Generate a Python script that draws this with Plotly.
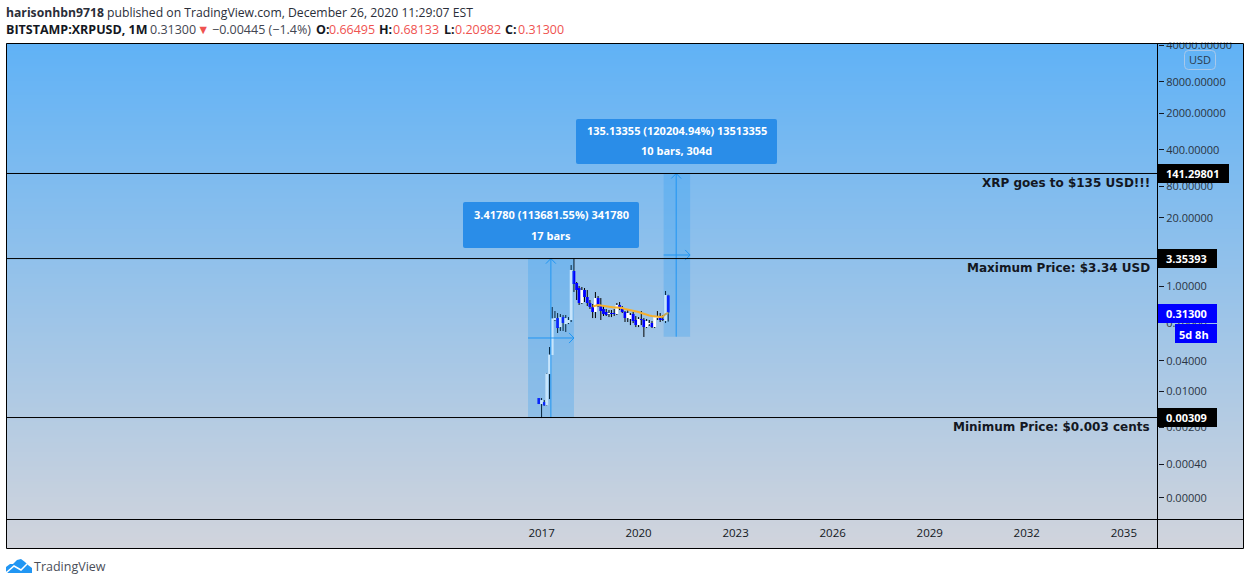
import pandas as pd
import plotly.graph_objects as go

W, H = 1250, 585
FONT = "Open Sans"
BOLD = "DejaVu Sans"
INK = "#131722"

months = pd.date_range("2016-12-01", "2020-12-01", freq="MS")
opens = [.00728,.00559,.00610,.00524,.0209,.0483,.225,.245,.165,.256,.188,.197,.225,1.94,1.144,.918,.475,.841,.618,.475,.398,.320,.591,.435,.365,.320,.293,.306,.306,.293,.435,.381,.320,.245,.235,.293,.225,.180,.235,.225,.165,.188,.197,.165,.245,.256,.235,.215,.66495]
highs = [.00728,.00728,.00666,.0219,.0686,.398,.334,.306,.293,.280,.280,.256,2.52,3.354,1.196,1.003,.96,.918,.841,.542,.454,.770,.646,.591,.416,.365,.349,.349,.365,.475,.496,.416,.334,.349,.306,.320,.268,.256,.334,.245,.235,.225,.215,.268,.334,.306,.280,.805,.68133]
lows = [.00559,.00302,.00513,.00513,.00696,.0483,.215,.127,.139,.139,.133,.188,.206,.770,.542,.435,.454,.496,.416,.365,.245,.245,.398,.225,.268,.268,.256,.256,.268,.280,.349,.306,.206,.206,.180,.197,.165,.165,.180,.1067,.158,.173,.158,.158,.225,.206,.215,.197,.20982]
closes = [.00559,.00666,.00524,.0214,.0493,.242,.245,.158,.256,.197,.245,.225,2.028,1.095,.841,.475,.841,.618,.475,.398,.320,.591,.435,.334,.293,.280,.306,.293,.293,.435,.381,.320,.245,.306,.280,.215,.180,.235,.225,.165,.215,.197,.165,.256,.268,.225,.225,.675,.31300]
ma_months = pd.date_range("2018-08-01", "2020-12-01", freq="MS")
ma_values = [.407,.425,.435,.425,.416,.407,.398,.398,.390,.390,.390,.381,.365,.357,.349,.341,.327,.320,.306,.293,.280,.274,.268,.262,.256,.256,.262,.293,.306]

price_ticks = [40000,8000,2000,400,80,20,1,0.2,0.0376,0.00978,0.002,0.0004,0.00009]
price_labels = ["40000.00000","8000.00000","2000.00000","400.00000","80.00000","20.00000","1.00000","0.20000","0.04000","0.01000","0.00200","0.00040","0.00000"]
year_ticks = ["2017-01-01","2020-01-01","2023-01-01","2026-01-01","2029-01-01","2032-01-01","2035-01-01"]
year_labels = ["2017","2020","2023","2026","2029","2032","2035"]

level_high = 141.29801
level_max = 3.35393
level_min = 0.00309
last_close = 0.31300

def px(x): return x / W
def py(y): return 1 - y / H

wick_x, wick_y = [], []
for m, o, hi, lo, c in zip(months, opens, highs, lows, closes):
    wick_x += [m, m, None, m, m, None]
    wick_y += [hi, max(o, c), None, min(o, c), lo, None]

body_base = [min(o, c) for o, c in zip(opens, closes)]
body_size = [abs(c - o) for o, c in zip(opens, closes)]
body_color = ["#ffffff" if c >= o else "#0000ff" for o, c in zip(opens, closes)]
body_days = 32 * 86400000

fig = go.Figure()
fig.add_trace(go.Heatmap(z=[[0, 0], [1, 1]], x=[0, 1], y=[0, 1], zsmooth="best", showscale=False,
                         colorscale=[[0, "#d1d4dc"], [1, "#60b2f6"]], hoverinfo="skip", xaxis="x", yaxis="y"))
fig.add_trace(go.Scatter(x=wick_x, y=wick_y, mode="lines", line=dict(color="#000000", width=1),
                         xaxis="x2", yaxis="y2", hoverinfo="skip", showlegend=False))
fig.add_trace(go.Bar(x=months, y=body_size, base=body_base, width=body_days, marker=dict(color=body_color, line=dict(width=0)),
                     xaxis="x2", yaxis="y2", showlegend=False, hoverinfo="skip"))
fig.add_trace(go.Scatter(x=ma_months, y=ma_values, mode="lines", line=dict(color="#f6b02c", width=2),
                         xaxis="x2", yaxis="y2", hoverinfo="skip", showlegend=False))

shapes = []
BLUE = "#2196f3"

def data_line(x0, y0, x1, y1):
    shapes.append(dict(type="line", xref="x2", yref="y2", x0=x0, y0=y0, x1=x1, y1=y1,
                       line=dict(color=BLUE, width=1), layer="above"))

def measure(x0, x1, xmid, p0, p1, p_h):
    t0, t1, tm = map(pd.Timestamp, (x0, x1, xmid))
    shapes.append(dict(type="rect", xref="x2", yref="y2", x0=t0, x1=t1, y0=p0, y1=p1,
                       fillcolor="rgba(33,150,243,0.25)", line=dict(width=0), layer="above"))
    data_line(tm, p0, tm, p1)
    data_line(t0, p_h, t1, p_h)
    arm = pd.Timedelta(days=56)
    factor = 1.25
    data_line(tm - arm, p1 / factor, tm, p1)
    data_line(tm + arm, p1 / factor, tm, p1)
    data_line(t1 - arm, p_h * factor, t1, p_h)
    data_line(t1 - arm, p_h / factor, t1, p_h)

measure("2016-08-01", "2018-01-02", "2017-04-16", 0.00302, level_max, 0.102)
measure("2020-10-10", "2021-08-05", "2021-03-01", 0.108, level_high, 3.92)

for level in (level_high, level_max, level_min):
    shapes.append(dict(type="line", xref="paper", yref="y2", x0=px(6), x1=px(1158), y0=level, y1=level,
                       line=dict(color="#000000", width=1), layer="above"))

def rect(x0, y0, x1, y1, color):
    shapes.append(dict(type="rect", xref="paper", yref="paper", x0=px(x0), x1=px(x1), y0=py(y0), y1=py(y1),
                       fillcolor=color, line=dict(width=0), layer="above"))

def rrect(x0, y0, x1, y1, r, fill, line=None):
    p = (f"M{px(x0+r)},{py(y0)} L{px(x1-r)},{py(y0)} Q{px(x1)},{py(y0)} {px(x1)},{py(y0+r)} "
         f"L{px(x1)},{py(y1-r)} Q{px(x1)},{py(y1)} {px(x1-r)},{py(y1)} L{px(x0+r)},{py(y1)} "
         f"Q{px(x0)},{py(y1)} {px(x0)},{py(y1-r)} L{px(x0)},{py(y0+r)} Q{px(x0)},{py(y0)} {px(x0+r)},{py(y0)} Z")
    shapes.append(dict(type="path", xref="paper", yref="paper", path=p, fillcolor=fill,
                       line=dict(color=line or "rgba(0,0,0,0)", width=1), layer="above"))

rect(0, 0, W, 42.5, "#ffffff")
rect(1157, 164, 1229, 183, "#000000")
rect(1157, 249, 1217, 268, "#000000")
rect(1157, 408, 1217, 427, "#000000")
rect(1157, 304, 1217, 323, "#0000ff")
rect(1175, 324, 1217, 343, "#0000ff")
rrect(1184.5, 50.5, 1215.5, 69.5, 4, "rgba(0,0,0,0)", "#a8c8ea")
rrect(463, 202, 639, 248, 2, "#2a8de8")
rrect(576, 119, 777, 164, 2, "#2a8de8")
shapes.append(dict(type="rect", xref="paper", yref="paper", x0=px(6.5), x1=px(1243.5), y0=py(43.5), y1=py(548.5),
                   line=dict(color="#000000", width=1), layer="above"))
for x0, y0, x1, y1 in [(1157.5, 43, 1157.5, 548), (6, 519.5, 1243, 519.5)]:
    shapes.append(dict(type="line", xref="paper", yref="paper", x0=px(x0), y0=py(y0), x1=px(x1), y1=py(y1),
                       line=dict(color="#000000", width=1), layer="above"))
cloud = [(6,571),(6,567),(10,564),(13,564),(17,560),(21,559),(25,562),(28,565),(32,568),(32,573),(8,573)]
shapes.append(dict(type="path", xref="paper", yref="paper", fillcolor="#2196f3", line=dict(width=0), layer="above",
                   path="M" + " L".join(f"{px(a)},{py(b)}" for a, b in cloud) + " Z"))
shapes.append(dict(type="path", xref="paper", yref="paper", line=dict(color="#ffffff", width=1.5), layer="above",
                   path=f"M{px(7)},{py(572)} L{px(14)},{py(566)} L{px(21)},{py(570)} L{px(27)},{py(564)}"))

notes = []
def text(s, x, y, anchor="left", size=12, color=INK, family=FONT):
    notes.append(dict(text=s, x=px(x), y=py(y), xref="paper", yref="paper", xanchor=anchor, yanchor="middle",
                      showarrow=False, borderpad=0, borderwidth=0, font=dict(family=family, size=size, color=color)))

text("<b>harisonhbn9718</b> published on TradingView.com, December 26, 2020 11:29:07 EST", 6, 12, size=12.2, color="#2a2e39")
R = "#ef5350"
G = "#434651"
header_parts = [("<b>BITSTAMP:XRPUSD, 1M</b>", 6, INK), ("0.31300", 150, G), ("▼", 197, R),
                ("−0.00445 (−1.4%)", 212, G), ("<b>O:</b>", 316, INK), ("0.66495", 329, R),
                ("<b>H:</b>", 379, INK), ("0.68133", 393, R), ("<b>L:</b>", 444, INK), ("0.20982", 455, R),
                ("<b>C:</b>", 505, INK), ("0.31300", 518, R)]
for s, x, c in header_parts:
    text(s, x, 29, size=12.5, color=c)
text("<b>XRP goes to $135 USD!!!</b>", 1150, 183, "right", 12, family=BOLD)
text("<b>Maximum Price: $3.34 USD</b>", 1150, 268, "right", 12, family=BOLD)
text("<b>Minimum Price: $0.003 cents</b>", 1150, 427, "right", 12, family=BOLD)
text("<b>141.29801</b>", 1166, 173.5, color="#ffffff", size=11)
text("<b>3.35393</b>", 1166, 258.5, color="#ffffff", size=11)
text("<b>0.00309</b>", 1166, 417.5, color="#ffffff", size=11)
text("<b>0.31300</b>", 1166, 313.5, color="#ffffff", size=11)
text("<b>5d 8h</b>", 1179, 334, color="#ffffff", size=11)
text("USD", 1200, 60, "center", 11, "#2a3a4c")
text("<b>3.41780 (113681.55%) 341780</b>", 551, 214, "center", 11, "#ffffff")
text("<b>17 bars</b>", 551, 235, "center", 11, "#ffffff")
text("<b>135.13355 (120204.94%) 13513355</b>", 676.5, 130, "center", 11, "#ffffff")
text("<b>10 bars, 304d</b>", 676.5, 151, "center", 11, "#ffffff")
text("TradingView", 34, 566, size=12.5, color="#4a4e58")

fig.update_layout(
    width=W, height=H, autosize=False, margin=dict(l=0, r=0, t=0, b=0, pad=0),
    paper_bgcolor="#ffffff", plot_bgcolor="rgba(0,0,0,0)", showlegend=False, hovermode=False,
    shapes=shapes, annotations=notes, barmode="overlay",
    xaxis=dict(domain=[px(6), px(1243)], range=[0, 1], visible=False, fixedrange=True, automargin=False),
    yaxis=dict(domain=[py(548), py(43)], range=[0, 1], visible=False, fixedrange=True, automargin=False),
    xaxis2=dict(domain=[px(6), px(1158)], type="date", range=["2000-06-12", "2036-01-22"], anchor="y2", automargin=False,
                tickmode="array", tickvals=year_ticks, ticktext=year_labels, ticks="outside", ticklen=3,
                tickcolor="rgba(0,0,0,0)", showgrid=False, zeroline=False,
                tickfont=dict(family=FONT, size=11.5, color=INK), fixedrange=True),
    yaxis2=dict(domain=[py(519), py(43)], type="log", range=[-4.448, 4.642], anchor="x2", side="right", automargin=False,
                tickmode="array", tickvals=price_ticks, ticktext=price_labels, ticks="outside", ticklen=5,
                tickcolor=INK, showgrid=False, zeroline=False,
                tickfont=dict(family=FONT, size=11, color="#2a3442"), fixedrange=True),
)
fig.write_html("out.html", config=dict(displayModeBar=False),
               post_script="document.body.style.margin='0';document.documentElement.style.overflow='hidden';")
